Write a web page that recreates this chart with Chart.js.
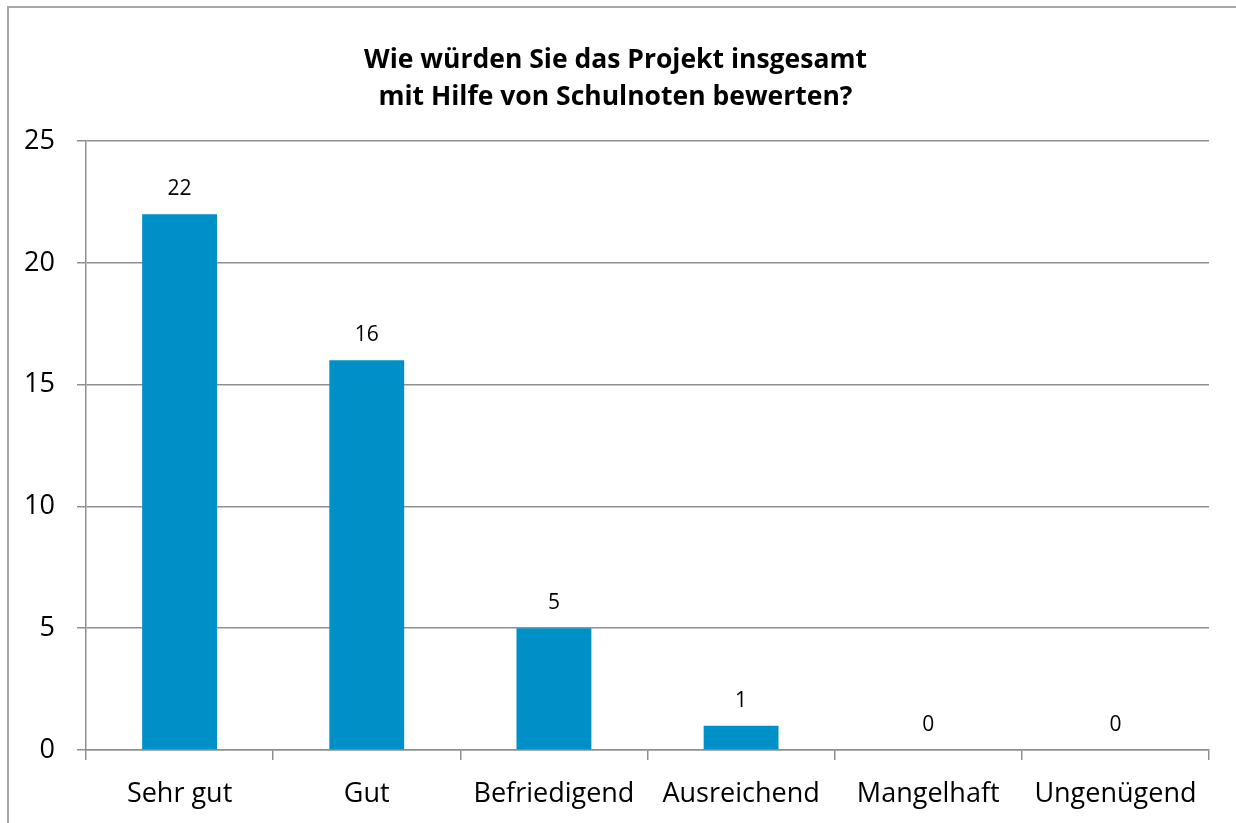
<!DOCTYPE html>
<html>
<head>
<meta charset="utf-8">
<script src="https://cdn.jsdelivr.net/npm/chart.js@4/dist/chart.umd.min.js"></script>
<style>
  html, body { margin: 0; padding: 0; background: #fff; overflow: hidden; }
  #frame {
    position: absolute; left: 7px; top: 6px; width: 1300px; height: 900px;
    border-top: 2px solid #a6a6a6; border-left: 2px solid #a6a6a6;
  }
  #chart { position: absolute; left: 0; top: 0; }
</style>
</head>
<body>
<div id="frame"></div>
<canvas id="chart" width="1236" height="823"></canvas>
<script>
const categories = ["Sehr gut", "Gut", "Befriedigend", "Ausreichend", "Mangelhaft", "Ungenügend"];
const counts = [22, 16, 5, 1, 0, 0];
const yTicks = [0, 5, 10, 15, 20, 25];
const titleLines = ["Wie würden Sie das Projekt insgesamt", "mit Hilfe von Schulnoten bewerten?"];

const lineColor = "#8f8f8f";
const font = "'Open Sans', sans-serif";

// value above each bar
const valueLabels = {
  id: "valueLabels",
  afterDatasetsDraw(chart) {
    const ctx = chart.ctx;
    const meta = chart.getDatasetMeta(0);
    ctx.save();
    ctx.font = "21px " + font;
    ctx.fillStyle = "#000";
    ctx.textAlign = "center";
    ctx.textBaseline = "middle";
    meta.data.forEach((bar, i) => {
      ctx.fillText(String(counts[i]), bar.x, bar.y - 25);
    });
    ctx.restore();
  },
};

new Chart(document.getElementById("chart"), {
  type: "bar",
  data: {
    labels: categories,
    datasets: [
      {
        data: counts,
        backgroundColor: "#0090c8",
        borderWidth: 0,
        barPercentage: 0.4,
        categoryPercentage: 1,
      },
    ],
  },
  options: {
    responsive: false,
    animation: false,
    layout: { padding: { top: 42, right: 27, left: 22, bottom: 0 } },
    plugins: {
      legend: { display: false },
      tooltip: { enabled: false },
      title: {
        display: true,
        text: titleLines,
        color: "#000",
        font: { family: font, size: 26.5, weight: "bold", lineHeight: 1.4 },
        padding: { top: 0, bottom: 25 },
      },
    },
    scales: {
      x: {
        grid: { drawOnChartArea: false, color: lineColor, lineWidth: 1.5, tickLength: 10 },
        border: { color: lineColor, width: 1.5 },
        ticks: { color: "#000", font: { family: font, size: 27 }, padding: 18, maxRotation: 0 },
        afterFit(scale) { scale.height = 73; },
      },
      y: {
        min: 0,
        max: 25,
        afterBuildTicks(scale) { scale.ticks = yTicks.map((v) => ({ value: v })); },
        grid: { color: lineColor, lineWidth: 1.5, tickLength: 9 },
        border: { color: lineColor, width: 1.5 },
        ticks: { color: "#000", font: { family: font, size: 27 }, padding: 22 },
        afterFit(scale) { scale.width = 64; },
      },
    },
  },
  plugins: [valueLabels],
});
</script>
</body>
</html>
